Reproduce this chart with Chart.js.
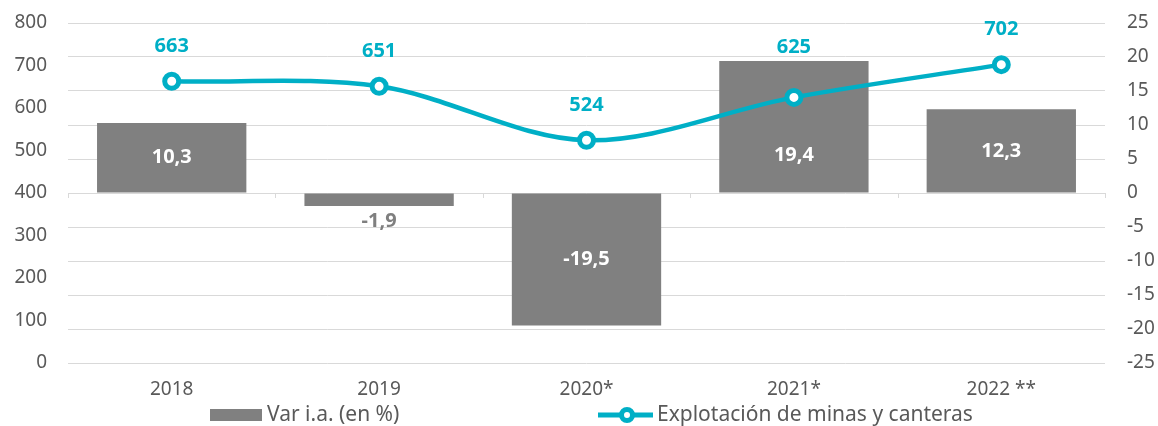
<!DOCTYPE html>
<html>
<head>
<meta charset="utf-8">
<script src="https://cdn.jsdelivr.net/npm/chart.js@4/dist/chart.umd.min.js"></script>
<style>
html,body{margin:0;padding:0;background:#fff;}
#wrap{width:1158px;height:426px;position:relative;}
</style>
</head>
<body>
<div id="wrap"><canvas id="c" width="1158" height="426"></canvas></div>
<script>
const categories = ['2018', '2019', '2020*', '2021*', '2022 **'];
const varValues = [10.3, -1.9, -19.5, 19.4, 12.3];
const explotacionValues = [663, 651, 524, 625, 702];
const leftTicks = [0, 800, 100];   // min, max, step
const rightTicks = [-25, 25, 5];   // min, max, step
const seriesNames = ['Var i.a. (en %)', 'Explotación de minas y canteras'];

const GREY = '#808080';
const TEAL = '#00AFC6';
const TEXT = '#595959';
const SANS = '"Noto Sans", "Open Sans", sans-serif';

const fmt = v => String(v).replace('.', ',');

const labelsPlugin = {
  id: 'valueLabels',
  afterDatasetsDraw(chart) {
    const ctx = chart.ctx;
    const barMeta = chart.getDatasetMeta(0);
    const lineMeta = chart.getDatasetMeta(1);
    ctx.save();
    ctx.textAlign = 'center';
    ctx.textBaseline = 'middle';
    ctx.font = 'bold 20px ' + SANS;
    barMeta.data.forEach((bar, i) => {
      const v = chart.data.datasets[0].data[i];
      const h = Math.abs(bar.base - bar.y);
      if (h > 30) {
        let cy = (bar.y + bar.base) / 2;
        const pt = lineMeta.data[i];
        if (v > 0 && pt) cy = Math.max(cy, pt.y + 58);
        ctx.fillStyle = '#ffffff';
        ctx.fillText(fmt(v), bar.x, cy);
      } else {
        ctx.fillStyle = '#7f7f7f';
        const edge = v < 0 ? Math.max(bar.y, bar.base) + 15 : Math.min(bar.y, bar.base) - 15;
        ctx.fillText(fmt(v), bar.x, edge);
      }
    });
    ctx.fillStyle = TEAL;
    lineMeta.data.forEach((pt, i) => {
      const bar = barMeta.data[i];
      const barTop = Math.min(bar.y, bar.base);
      let ly = pt.y - 35;
      if (ly + 12 > barTop && pt.y > barTop) ly = barTop - 14;
      ctx.fillText(fmt(chart.data.datasets[1].data[i]), pt.x, ly);
    });
    ctx.restore();
  }
};

const axisTicksPlugin = {
  id: 'zeroAxisTicks',
  beforeDatasetsDraw(chart) {
    const x = chart.scales.x, yr = chart.scales.y1;
    const y0 = yr.getPixelForValue(0);
    const ctx = chart.ctx;
    ctx.save();
    ctx.strokeStyle = '#d9d9d9';
    ctx.lineWidth = 1;
    const n = chart.data.labels.length;
    const step = x.getPixelForTick(1) - x.getPixelForTick(0);
    ctx.beginPath();
    for (let i = 0; i <= n; i++) {
      const px = x.getPixelForTick(0) - step / 2 + i * step;
      const xx = Math.round(px) + 0.5;
      ctx.moveTo(xx, y0);
      ctx.lineTo(xx, y0 + 5);
    }
    ctx.stroke();
    ctx.restore();
  }
};

const legendPlugin = {
  id: 'customLegend',
  afterDraw(chart) {
    const ctx = chart.ctx;
    const area = chart.chartArea;
    const ds = chart.data.datasets;
    const y = 415;
    ctx.save();
    ctx.font = '21px ' + SANS;
    ctx.textBaseline = 'middle';
    ctx.textAlign = 'left';
    const x1 = area.left + 142;
    ctx.fillStyle = ds[0].backgroundColor;
    ctx.fillRect(x1, y - 6, 52, 12);
    ctx.fillStyle = TEXT;
    ctx.fillText(ds[0].label, x1 + 57, y);
    const x2 = area.left + 530;
    ctx.strokeStyle = ds[1].borderColor;
    ctx.lineWidth = 5;
    ctx.beginPath();
    ctx.moveTo(x2, y); ctx.lineTo(x2 + 55, y);
    ctx.stroke();
    ctx.beginPath();
    ctx.arc(x2 + 29, y, 5.5, 0, Math.PI * 2);
    ctx.fillStyle = '#ffffff';
    ctx.fill();
    ctx.lineWidth = 5;
    ctx.stroke();
    ctx.fillStyle = TEXT;
    ctx.fillText(ds[1].label, x2 + 59, y);
    ctx.restore();
  }
};

function noPad(s, w) { s.width = w; s.paddingTop = 0; s.paddingBottom = 0; }

new Chart(document.getElementById('c'), {
  data: {
    labels: categories,
    datasets: [
      {
        type: 'bar',
        label: seriesNames[0],
        data: varValues,
        yAxisID: 'y1',
        backgroundColor: GREY,
        borderWidth: 0,
        categoryPercentage: 1,
        barPercentage: 0.72,
        order: 2
      },
      {
        type: 'line',
        label: seriesNames[1],
        data: explotacionValues,
        yAxisID: 'y',
        borderColor: TEAL,
        borderWidth: 4.5,
        tension: 0.33,
        pointRadius: 7,
        pointBorderWidth: 5,
        pointBackgroundColor: '#ffffff',
        pointBorderColor: TEAL,
        fill: false,
        order: 1
      }
    ]
  },
  options: {
    responsive: false,
    animation: false,
    devicePixelRatio: 1,
    layout: { padding: { top: 23, bottom: 0, left: 0, right: 0 } },
    plugins: {
      legend: { display: false },
      tooltip: { enabled: false }
    },
    scales: {
      x: {
        offset: true,
        grid: { display: false, drawTicks: false },
        border: { display: false },
        ticks: { color: TEXT, font: { size: 19, family: SANS }, padding: 15, maxRotation: 0 },
        afterFit(s) { s.height = 63; }
      },
      y: {
        position: 'left',
        min: leftTicks[0], max: leftTicks[1],
        ticks: { stepSize: leftTicks[2], color: TEXT, font: { size: 19, family: SANS }, padding: 21 },
        grid: { display: false, drawTicks: false },
        border: { display: false },
        afterFit(s) { noPad(s, 68); }
      },
      y1: {
        position: 'right',
        min: rightTicks[0], max: rightTicks[1],
        ticks: { stepSize: rightTicks[2], color: TEXT, font: { size: 19, family: SANS }, padding: 22 },
        grid: { color: '#d9d9d9', lineWidth: 1, drawTicks: false },
        border: { display: false },
        afterFit(s) { noPad(s, 53); }
      }
    }
  },
  plugins: [axisTicksPlugin, labelsPlugin, legendPlugin]
});
</script>
</body>
</html>
